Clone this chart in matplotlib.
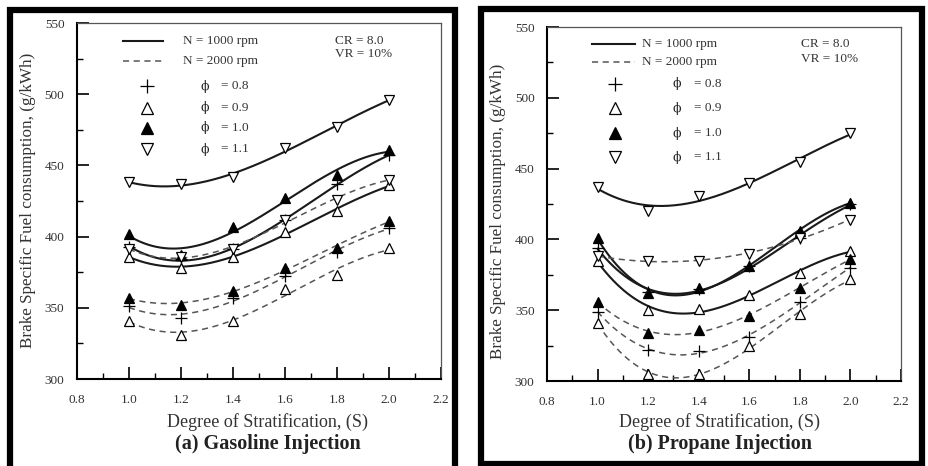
import numpy as np
import matplotlib
matplotlib.use('Agg')
import matplotlib.pyplot as plt
from matplotlib.patches import Rectangle
from matplotlib.ticker import MultipleLocator

plt.rcParams['font.family'] = ['Liberation Serif', 'DejaVu Serif']

# degree of stratification
S = [1.0, 1.2, 1.4, 1.6, 1.8, 2.0]
phis = ['0.8', '0.9', '1.0', '1.1']

# (a) gasoline injection, BSFC g/kWh
gas_1000_08 = [393, 384, 391, 412, 437, 457]
gas_1000_09 = [386, 378, 386, 403, 418, 436]
gas_1000_10 = [402, 387, 407, 427, 443, 461]
gas_1000_11 = [438, 437, 442, 462, 477, 496]
gas_2000_08 = [351, 343, 357, 372, 389, 406]
gas_2000_09 = [341, 331, 341, 363, 373, 392]
gas_2000_10 = [357, 352, 362, 378, 392, 411]
gas_2000_11 = [391, 386, 391, 412, 426, 440]

# (b) propane injection
pro_1000_08 = [394, 363, 365, 381, 401, 425]
pro_1000_09 = [385, 350, 351, 361, 376, 392]
pro_1000_10 = [401, 362, 366, 381, 406, 426]
pro_1000_11 = [437, 420, 431, 440, 455, 475]
pro_2000_08 = [349, 322, 321, 331, 356, 380]
pro_2000_09 = [341, 305, 305, 325, 347, 372]
pro_2000_10 = [356, 334, 336, 346, 366, 386]
pro_2000_11 = [388, 385, 385, 390, 401, 414]

xticks = [0.8, 1.0, 1.2, 1.4, 1.6, 1.8, 2.0, 2.2]
yticks = [300, 350, 400, 450, 500, 550]

W, H = 929, 466
TXT = '#333333'
# marker style per phi: (marker, facecolor)
mstyle = {'0.8': ('+', 'none'), '0.9': ('^', 'white'),
          '1.0': ('^', 'black'), '1.1': ('v', 'white')}


def px_axes(l, t, r, b):
    return [l / W, 1 - b / H, (r - l) / W, (b - t) / H]


def draw_series(ax, vals, phi, ls):
    m, fc = mstyle[phi]
    xs = np.linspace(S[0], S[-1], 200)
    fit = np.polyval(np.polyfit(S, vals, 3), xs)
    if ls == '-':
        ax.plot(xs, fit, color='#1a1a1a', lw=1.5, zorder=2)
    else:
        ax.plot(xs, fit, color='#555555', lw=1.1, ls=(0, (4, 3)), zorder=2)
    ax.plot(S, vals, ls='none', marker=m, ms=7 if m != '+' else 9,
            mfc=fc, mec='black', mew=0.9, color='black', zorder=3)


def setup(ax):
    ax.set_xlim(0.8, 2.2)
    ax.set_ylim(300, 550)
    ax.set_xticks(xticks)
    ax.set_xticklabels(['%.1f' % v for v in xticks])
    ax.set_yticks(yticks)
    ax.xaxis.set_minor_locator(MultipleLocator(0.1))
    ax.yaxis.set_minor_locator(MultipleLocator(25))
    ax.tick_params(which='both', direction='in', top=False, right=False,
                   colors='black', labelcolor=TXT, labelsize=9.5)
    ax.tick_params(which='major', length=8.5, width=1.2)
    ax.tick_params(which='minor', length=4.5, width=1.0)
    ax.tick_params(axis='x', pad=11)
    ax.tick_params(axis='y', pad=9)
    for s in ['left', 'bottom']:
        ax.spines[s].set_linewidth(1.5)
    for s in ['top', 'right']:
        ax.spines[s].set_linewidth(0.9)
        ax.spines[s].set_color('#555555')


def legend(ax, lx0, lx1, ly, mx, my, nx, phx, eqx, crx, cry):
    tr = ax.transAxes
    fs = 9.5
    ax.plot([lx0, lx1], [ly[0]] * 2, transform=tr, color='#1a1a1a', lw=1.5)
    ax.plot([lx0, lx1], [ly[1]] * 2, transform=tr, color='#555555', lw=1.1,
            ls=(0, (4, 3)))
    ax.text(nx, ly[0], 'N = 1000 rpm', transform=tr, va='center', fontsize=fs, color=TXT)
    ax.text(nx, ly[1], 'N = 2000 rpm', transform=tr, va='center', fontsize=fs, color=TXT)
    for phi, y in zip(phis, my):
        m, fc = mstyle[phi]
        ax.plot([mx], [y], transform=tr, ls='none', marker=m,
                ms=8 if m != '+' else 10, mfc=fc, mec='black', mew=0.9)
        ax.text(phx, y, '\u03d5', transform=tr, va='center', ha='center',
                fontsize=9, color='#222222', family=['DejaVu Serif'])
        ax.text(eqx, y, '= ' + phi, transform=tr, va='center', fontsize=fs, color=TXT)
    ax.text(crx, cry[0], 'CR = 8.0', transform=tr, va='center', fontsize=fs, color=TXT)
    ax.text(crx, cry[1], 'VR = 10%', transform=tr, va='center', fontsize=fs, color=TXT)


fig = plt.figure(figsize=(W / 100, H / 100), dpi=100)

# outer scan frames
for (l, t, r, b) in [(10, 9.5, 455, 468), (481, 8.7, 922, 464)]:
    fig.add_artist(Rectangle((l / W, 1 - b / H), (r - l) / W, (b - t) / H,
                             transform=fig.transFigure, fill=False,
                             lw=4.5, ec='black'))

axa = fig.add_axes(px_axes(77, 23, 441, 379))
setup(axa)
for vals, phi in zip([gas_1000_08, gas_1000_09, gas_1000_10, gas_1000_11], phis):
    draw_series(axa, vals, phi, '-')
for vals, phi in zip([gas_2000_08, gas_2000_09, gas_2000_10, gas_2000_11], phis):
    draw_series(axa, vals, phi, '--')
legend(axa, 0.126, 0.236, [0.95, 0.894], 0.191, [0.823, 0.762, 0.706, 0.645],
       0.29, 0.35, 0.395, 0.71, [0.95, 0.913])

axb = fig.add_axes(px_axes(547, 27, 901, 381))
setup(axb)
for vals, phi in zip([pro_1000_08, pro_1000_09, pro_1000_10, pro_1000_11], phis):
    draw_series(axb, vals, phi, '-')
for vals, phi in zip([pro_2000_08, pro_2000_09, pro_2000_10, pro_2000_11], phis):
    draw_series(axb, vals, phi, '--')
legend(axb, 0.127, 0.249, [0.952, 0.90], 0.193, [0.839, 0.77, 0.70, 0.632],
       0.268, 0.367, 0.414, 0.717, [0.952, 0.911])

ylab = 'Brake Specific Fuel consumption, (g/kWh)'
xlab = 'Degree of Stratification, (S)'
fig.text(28 / W, 1 - 200 / H, ylab, rotation=90, ha='center', va='center',
         fontsize=12.3, color=TXT)
fig.text(498 / W, 1 - 211 / H, ylab, rotation=90, ha='center', va='center',
         fontsize=12.3, color=TXT)
fig.text(268 / W, 1 - 422 / H, xlab, ha='center', va='center', fontsize=13, color=TXT)
fig.text(720 / W, 1 - 422 / H, xlab, ha='center', va='center', fontsize=13, color=TXT)
fig.text(268 / W, 1 - 444 / H, '(a) Gasoline Injection', ha='center', va='center',
         fontsize=14.5, fontweight='bold', color='#222222')
fig.text(720 / W, 1 - 444 / H, '(b) Propane Injection', ha='center', va='center',
         fontsize=14.5, fontweight='bold', color='#222222')

fig.savefig('out.png', dpi=100)
